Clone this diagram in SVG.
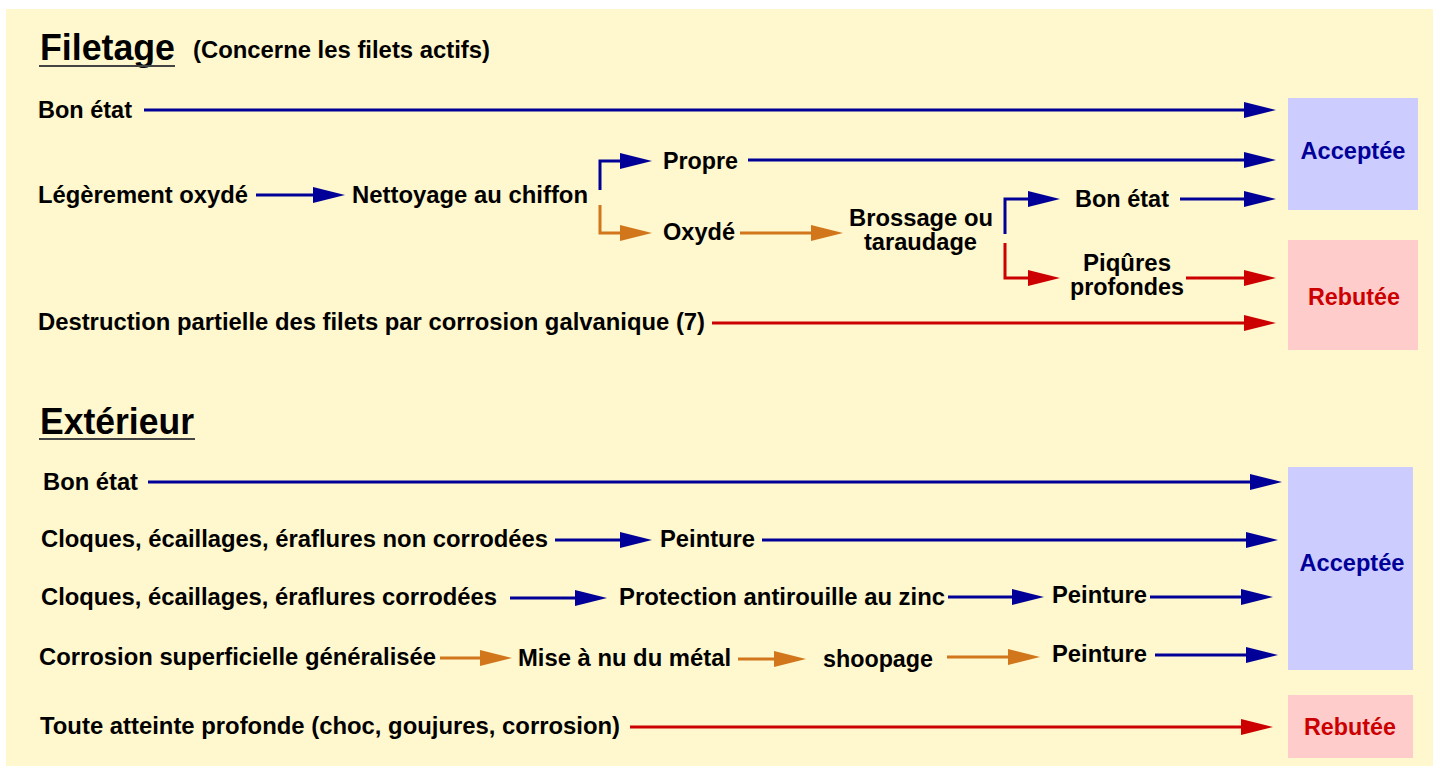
<svg xmlns="http://www.w3.org/2000/svg" width="1437" height="769" viewBox="0 0 1437 769">
<style>
.t{font-family:"Liberation Sans",Arial,sans-serif;font-weight:bold;font-size:23px;fill:#000}
.h{font-family:"Liberation Sans",Arial,sans-serif;font-weight:bold;font-size:37px;fill:#000}
.ok{font-family:"Liberation Sans",Arial,sans-serif;font-weight:bold;font-size:23px;fill:#000099}
.ko{font-family:"Liberation Sans",Arial,sans-serif;font-weight:bold;font-size:23px;fill:#CC0000}
.b{fill:none;stroke:#000099;stroke-width:3}
.o{fill:none;stroke:#D2761C;stroke-width:3}
.r{fill:none;stroke:#CC0000;stroke-width:3}
.b{marker-end:url(#mb)}
.o{marker-end:url(#mo)}
.r{marker-end:url(#mr)}
.nb{fill:none;stroke:#000099;stroke-width:3}
.nr{fill:none;stroke:#CC0000;stroke-width:3}
.no{fill:none;stroke:#D2761C;stroke-width:3}
</style>
<defs>
<marker id="mb" markerUnits="userSpaceOnUse" markerWidth="32" markerHeight="18" refX="12" refY="8" orient="auto" overflow="visible"><path d="M0,0 L32,8 L0,16 Z" fill="#000099"/></marker>
<marker id="mo" markerUnits="userSpaceOnUse" markerWidth="32" markerHeight="18" refX="12" refY="8" orient="auto" overflow="visible"><path d="M0,0 L32,8 L0,16 Z" fill="#D2761C"/></marker>
<marker id="mr" markerUnits="userSpaceOnUse" markerWidth="32" markerHeight="18" refX="12" refY="8" orient="auto" overflow="visible"><path d="M0,0 L32,8 L0,16 Z" fill="#CC0000"/></marker>
</defs>
<rect x="0" y="0" width="1437" height="769" fill="#ffffff"/>
<rect x="6" y="9" width="1427" height="757" fill="#FFF7CD"/>

<g id="titles">
<text class="h" x="40" y="60" textLength="135" lengthAdjust="spacingAndGlyphs">Filetage</text>
<line x1="39" y1="66" x2="175" y2="66" stroke="#444" stroke-width="2"/>
<text class="t" x="193" y="58" textLength="297" lengthAdjust="spacingAndGlyphs">(Concerne les filets actifs)</text>
<text class="h" x="40" y="434" textLength="154" lengthAdjust="spacingAndGlyphs">Extérieur</text>
<line x1="39" y1="439" x2="195" y2="439" stroke="#444" stroke-width="2"/>
</g>

<g id="connectors">
<path class="b" d="M144,110 H1256"/>
<path class="b" d="M256,195 H325"/>
<path class="nb" d="M600,190 V161 H620"/>
<path class="b" d="M620,161 H632"/>
<path class="no" d="M600,205 V233 H620"/>
<path class="o" d="M620,233 H632"/>
<path class="b" d="M748,160 H1256"/>
<path class="o" d="M740,233 H823"/>
<path class="nb" d="M1005,234 V199 H1030"/>
<path class="b" d="M1030,199 H1040"/>
<path class="nr" d="M1005,243 V278 H1030"/>
<path class="r" d="M1030,278 H1040"/>
<path class="b" d="M1180,199 H1256"/>
<path class="r" d="M1186,278 H1256"/>
<path class="r" d="M712,323 H1256"/>

<path class="b" d="M148,482 H1262"/>
<path class="b" d="M555,540 H632"/>
<path class="b" d="M762,540 H1258"/>
<path class="b" d="M510,598 H587"/>
<path class="b" d="M948,597 H1024"/>
<path class="b" d="M1150,597 H1253"/>
<path class="o" d="M440,658 H492"/>
<path class="o" d="M738,659 H786"/>
<path class="o" d="M947,657 H1020"/>
<path class="b" d="M1155,655 H1258"/>
<path class="r" d="M630,727 H1253"/>
</g>

<g id="filetage-bon-etat"><text class="t" x="38" y="118" textLength="94" lengthAdjust="spacingAndGlyphs">Bon état</text></g>
<g id="legerement-oxyde"><text class="t" x="38" y="203" textLength="210" lengthAdjust="spacingAndGlyphs">Légèrement oxydé</text></g>
<g id="nettoyage"><text class="t" x="352" y="203" textLength="236" lengthAdjust="spacingAndGlyphs">Nettoyage au chiffon</text></g>
<g id="propre"><text class="t" x="663" y="169" textLength="75" lengthAdjust="spacingAndGlyphs">Propre</text></g>
<g id="oxyde"><text class="t" x="663" y="240" textLength="72" lengthAdjust="spacingAndGlyphs">Oxydé</text></g>
<g id="brossage"><text class="t" x="849" y="226" textLength="144" lengthAdjust="spacingAndGlyphs">Brossage ou</text><text class="t" x="864" y="250" textLength="113" lengthAdjust="spacingAndGlyphs">taraudage</text></g>
<g id="bon-etat-2"><text class="t" x="1075" y="207" textLength="94" lengthAdjust="spacingAndGlyphs">Bon état</text></g>
<g id="piqures"><text class="t" x="1083" y="271" textLength="88" lengthAdjust="spacingAndGlyphs">Piqûres</text><text class="t" x="1070" y="295" textLength="114" lengthAdjust="spacingAndGlyphs">profondes</text></g>
<g id="destruction"><text class="t" x="38" y="330" textLength="667" lengthAdjust="spacingAndGlyphs">Destruction partielle des filets par corrosion galvanique (7)</text></g>
<g id="acceptee-1"><rect x="1288" y="98" width="130" height="112" fill="#CCCCFF"/><text class="ok" x="1353" y="159" text-anchor="middle" textLength="105" lengthAdjust="spacingAndGlyphs">Acceptée</text></g>
<g id="rebutee-1"><rect x="1288" y="240" width="130" height="110" fill="#FFCCCC"/><text class="ko" x="1354" y="305" text-anchor="middle" textLength="92" lengthAdjust="spacingAndGlyphs">Rebutée</text></g>

<g id="ext-bon-etat"><text class="t" x="43" y="490" textLength="95" lengthAdjust="spacingAndGlyphs">Bon état</text></g>
<g id="cloques-non"><text class="t" x="41" y="547" textLength="507" lengthAdjust="spacingAndGlyphs">Cloques, écaillages, éraflures non corrodées</text></g>
<g id="peinture-1"><text class="t" x="660" y="547" textLength="95" lengthAdjust="spacingAndGlyphs">Peinture</text></g>
<g id="cloques-corr"><text class="t" x="41" y="605" textLength="456" lengthAdjust="spacingAndGlyphs">Cloques, écaillages, éraflures corrodées</text></g>
<g id="protection"><text class="t" x="619" y="605" textLength="326" lengthAdjust="spacingAndGlyphs">Protection antirouille au zinc</text></g>
<g id="peinture-2"><text class="t" x="1052" y="603" textLength="95" lengthAdjust="spacingAndGlyphs">Peinture</text></g>
<g id="corrosion-sup"><text class="t" x="39" y="665" textLength="397" lengthAdjust="spacingAndGlyphs">Corrosion superficielle généralisée</text></g>
<g id="mise-a-nu"><text class="t" x="518" y="666" textLength="213" lengthAdjust="spacingAndGlyphs">Mise à nu du métal</text></g>
<g id="shoopage"><text class="t" x="823" y="667" textLength="110" lengthAdjust="spacingAndGlyphs">shoopage</text></g>
<g id="peinture-3"><text class="t" x="1052" y="662" textLength="95" lengthAdjust="spacingAndGlyphs">Peinture</text></g>
<g id="toute-atteinte"><text class="t" x="40" y="734" textLength="580" lengthAdjust="spacingAndGlyphs">Toute atteinte profonde (choc, goujures, corrosion)</text></g>
<g id="acceptee-2"><rect x="1288" y="467" width="125" height="203" fill="#CCCCFF"/><text class="ok" x="1352" y="571" text-anchor="middle" textLength="105" lengthAdjust="spacingAndGlyphs">Acceptée</text></g>
<g id="rebutee-2"><rect x="1288" y="695" width="125" height="63" fill="#FFCCCC"/><text class="ko" x="1350" y="735" text-anchor="middle" textLength="92" lengthAdjust="spacingAndGlyphs">Rebutée</text></g>
</svg>
